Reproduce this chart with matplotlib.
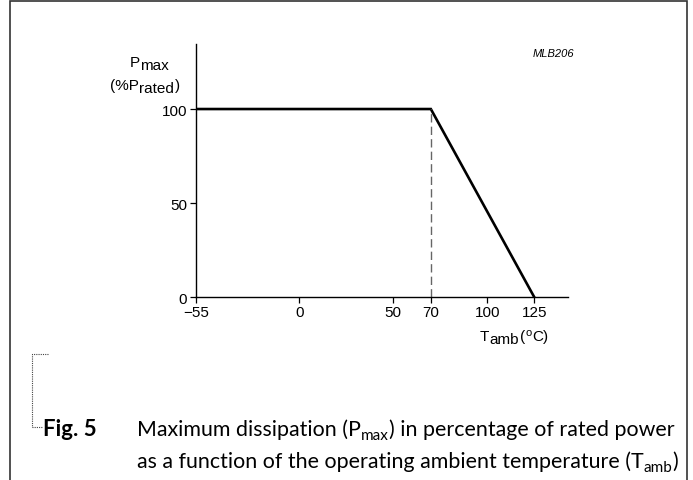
import matplotlib
matplotlib.use("Agg")
import matplotlib.pyplot as plt
from matplotlib.lines import Line2D
from matplotlib.patches import Rectangle

plt.rcParams['font.family'] = ['Liberation Sans', 'DejaVu Sans']

# data
temps = [-55, 70, 125]
pmax = [100, 100, 0]
knee_temp = 70
knee_val = 100
xticks = [-55, 0, 50, 70, 100, 125]
xticklabels = ['\u221255', '0', '50', '70', '100', '125']
yticks = [0, 50, 100]
yticklabels = ['0', '50', '100']

W, H = 693, 481
fig = plt.figure(figsize=(W / 100, H / 100), dpi=100)
renderer = fig.canvas.get_renderer()


def fx(px):
    return px / W


def fy(py):
    return 1 - py / H


def runs_text(x, y, runs, ha='left', family=None, **common):
    """Draw consecutive text runs on a shared baseline at pixel (x, y)."""
    items = []
    total = 0.0
    for s, size, dy, extra in runs:
        kw = dict(common)
        kw.update(extra)
        gap = kw.pop('gap', 0.0)
        if family is not None:
            kw['family'] = family
        t = fig.text(0, 0, s, fontsize=size, va='baseline', ha='left', **kw)
        w = t.get_window_extent(renderer).width + gap
        items.append((t, dy, w))
        total += w
    if ha == 'center':
        cur = x - total / 2
    elif ha == 'right':
        cur = x - total
    else:
        cur = x
    for t, dy, w in items:
        t.set_position((fx(cur), fy(y + dy)))
        cur += w


# outer border
fig.patches.append(Rectangle((fx(10), fy(540)), fx(687) - fx(10), fy(2) - fy(540),
                             transform=fig.transFigure, fill=False,
                             edgecolor='#333333', linewidth=1.2))

ax = fig.add_axes([fx(196), fy(298), fx(568) - fx(196), fy(45) - fy(298)])
ax.plot(temps, pmax, color='black', linewidth=1.9, solid_joinstyle='miter')
ax.plot([knee_temp, knee_temp], [0, knee_val], color='#666666', linewidth=1.0,
        dashes=(6, 3))
ax.set_xlim(-55, 143)
ax.set_ylim(0, 134.6)
for s in ['top', 'right']:
    ax.spines[s].set_visible(False)
for s in ['left', 'bottom']:
    ax.spines[s].set_linewidth(1.0)
ax.set_xticks(xticks)
ax.set_xticklabels(xticklabels)
ax.set_yticks(yticks)
ax.set_yticklabels(yticklabels)
ax.tick_params(axis='both', direction='out', length=4.5, width=0.9, labelsize=11,
               pad=2)
ax.tick_params(axis='x', pad=1.0)

# axis titles
runs_text(149, 67, [('P', 11, 0, {}), ('max', 11, 3, {})], ha='center')
runs_text(145, 90, [('(%P', 11, 0, {}), ('rated', 11, 3, {'gap': 1}), (')', 11, 0, {})],
          ha='center')
runs_text(548, 341, [('T', 11, 0, {}), ('amb', 11, 3, {'gap': 2}), ('(', 11, 0, {}),
                     ('o', 8, -5, {}), ('C)', 11, 0, {})], ha='right')
fig.text(fx(553), fy(54), 'MLB206', ha='center', va='center', fontsize=8, style='italic')

# caption
cap_font = ['Lato', 'DejaVu Sans']
runs_text(43, 436, [('Fig. 5', 16, 0, {'fontweight': 'bold'})], family=cap_font)
runs_text(137, 436, [('Maximum dissipation (P', 15.4, 0, {}), ('max', 11, 4, {}),
                     (') in percentage of rated power', 15.4, 0, {})], family=cap_font)
runs_text(137, 468, [('as a function of the operating ambient temperature (T', 15.4, 0, {}),
                     ('amb', 11, 4, {}), (')', 15.4, 0, {})], family=cap_font)

# dotted bracket
fig.add_artist(Line2D([fx(48), fx(32), fx(32), fx(42)], [fy(355), fy(355), fy(428), fy(428)],
                      transform=fig.transFigure, color='#444444', linewidth=0.8,
                      linestyle=(0, (1, 1))))

fig.savefig('out.png', dpi=100)
